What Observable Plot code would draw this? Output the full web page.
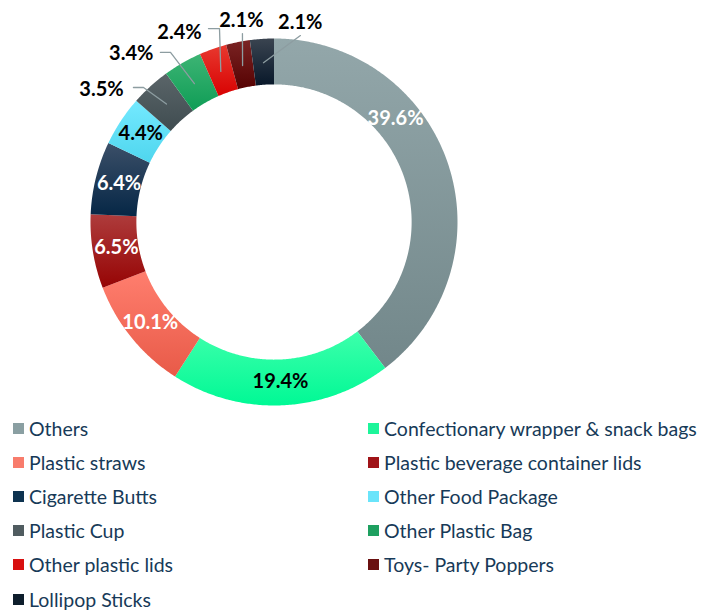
<!DOCTYPE html>
<html><head><meta charset="utf-8">
<script src="https://cdn.jsdelivr.net/npm/d3@7"></script>
<script src="https://cdn.jsdelivr.net/npm/@observablehq/plot@0.6"></script>
<style>
body{margin:0;background:#fff;font-family:Lato,"Open Sans",sans-serif;}
#legend{display:grid;grid-template-columns:356px 347px;width:703px;}
.item{height:34.2px;display:flex;align-items:center;font-size:19.5px;color:#173a58;white-space:nowrap;}
.sw{width:11px;height:11px;margin-left:13px;margin-right:5px;flex:none;}
.item:nth-child(even) .sw{margin-left:12px;}
</style></head><body>
<div id="chart"></div><div id="legend"></div>
<script>
// ---- data ----
const categories = ["Others","Confectionary wrapper & snack bags","Plastic straws","Plastic beverage container lids","Cigarette Butts","Other Food Package","Plastic Cup","Other Plastic Bag","Other plastic lids","Toys- Party Poppers","Lollipop Sticks"];
const values = [39.6,19.4,10.1,6.5,6.4,4.4,3.5,3.4,2.4,2.1,2.1];
const labels = ["39.6%","19.4%","10.1%","6.5%","6.4%","4.4%","3.5%","3.4%","2.4%","2.1%","2.1%"];
// ---- styles ----
const baseColors = ["#72878a","#00f995","#e85a48","#960404","#062746","#4fd6ee","#3f4c50","#0f9d56","#d80202","#560202","#08182a"];
const topColors  = ["#93a7aa","#3dffab","#ff7e6e","#ae3c3c","#3b4f68","#74e9ff","#5b6569","#3db474","#e8392f","#7a2323","#3a4450"];
const legendColors = ["#8a9fa2","#1df59a","#f87c6c","#a01418","#0e3350","#6ae4fa","#505c60","#1ea060","#d81010","#6a1010","#0e1e2c"];
const labelFill = ["white","black","white","white","white","black","black","black","black","black","black"];
// label placement: null = slice centroid; otherwise [angle in degrees clockwise from top, radius]
const labelPlace = [[49.6,0.87],null,null,null,null,null,[307.5,1.185],[319.8,1.205],[333.5,1.154],[350.8,1.112],[7.5,1.097]];
// leader line start/elbow (data units) for outside labels
const leaderStart = [null,null,null,null,null,null,[[-0.766,0.733],[-0.711,0.733]],[[-0.619,0.924],[-0.564,0.924]],[[-0.357,1.054],[-0.297,1.054]],[[-0.172,1.027]],[[0.144,1.016]]];

const R = 1, r0 = 0.75, rl = 0.87;
const arcs = d3.pie().sort(null).value(d => d)(values);
const slicePts = [];
arcs.forEach((a, i) => {
  const n = Math.max(4, Math.ceil((a.endAngle - a.startAngle) / (Math.PI / 360)));
  const pts = [];
  for (let k = 0; k <= n; k++) { const t = a.startAngle + (a.endAngle - a.startAngle) * k / n; pts.push({c: categories[i], x: R*Math.sin(t), y: R*Math.cos(t)}); }
  for (let k = n; k >= 0; k--) { const t = a.startAngle + (a.endAngle - a.startAngle) * k / n; pts.push({c: categories[i], x: r0*Math.sin(t), y: r0*Math.cos(t)}); }
  pts.push(pts[0]);
  slicePts.push(...pts);
});
const labelData = arcs.map((a, i) => {
  let ang, rad;
  if (labelPlace[i]) { ang = labelPlace[i][0] * Math.PI / 180; rad = labelPlace[i][1]; }
  else { ang = (a.startAngle + a.endAngle) / 2; rad = rl; }
  return {text: labels[i], fill: labelFill[i], x: rad*Math.sin(ang), y: rad*Math.cos(ang)};
});
const leaderPts = [];
arcs.forEach((a, i) => {
  if (!leaderStart[i]) return;
  const m = (a.startAngle + a.endAngle) / 2;
  leaderStart[i].forEach(p => leaderPts.push({c: categories[i], x: p[0], y: p[1]}));
  leaderPts.push({c: categories[i], x: rl*Math.sin(m), y: rl*Math.cos(m)});
});
const gradIds = categories.map((c, i) => `url(#grad${i})`);

const svg = Plot.plot({
  width: 703, height: 411,
  style: {fontFamily: "Lato, 'Open Sans', sans-serif", background: "white"},
  x: {domain: [-1, 1], range: [90, 457], axis: null},
  y: {domain: [-1, 1], range: [405, 38], axis: null},
  color: {domain: categories, range: gradIds},
  marks: [
    Plot.line(slicePts, {x: "x", y: "y", z: "c", fill: "c", stroke: "none", curve: "linear"}),
    Plot.line(leaderPts, {x: "x", y: "y", z: "c", stroke: "#8d9da1", strokeWidth: 1.3}),
    Plot.text(labelData.filter(d => d.fill === "white"), {x: "x", y: "y", text: "text", fill: "white", fontSize: 20, fontWeight: "bold"}),
    Plot.text(labelData.filter(d => d.fill !== "white"), {x: "x", y: "y", text: "text", fill: "black", fontSize: 20, fontWeight: "bold"})
  ]
});
const defs = d3.select(svg).insert("defs", ":first-child");
categories.forEach((c, i) => {
  const g = defs.append("linearGradient").attr("id", `grad${i}`).attr("x1", 0).attr("y1", 0).attr("x2", 0).attr("y2", 1);
  g.append("stop").attr("offset", "0%").attr("stop-color", topColors[i]);
  g.append("stop").attr("offset", "100%").attr("stop-color", baseColors[i]);
});
document.getElementById("chart").appendChild(svg);

const legend = d3.select("#legend");
categories.forEach((c, i) => {
  const it = legend.append("div").attr("class", "item");
  it.append("span").attr("class", "sw").style("background", legendColors[i]);
  it.append("span").text(c);
});
</script>
</body></html>
